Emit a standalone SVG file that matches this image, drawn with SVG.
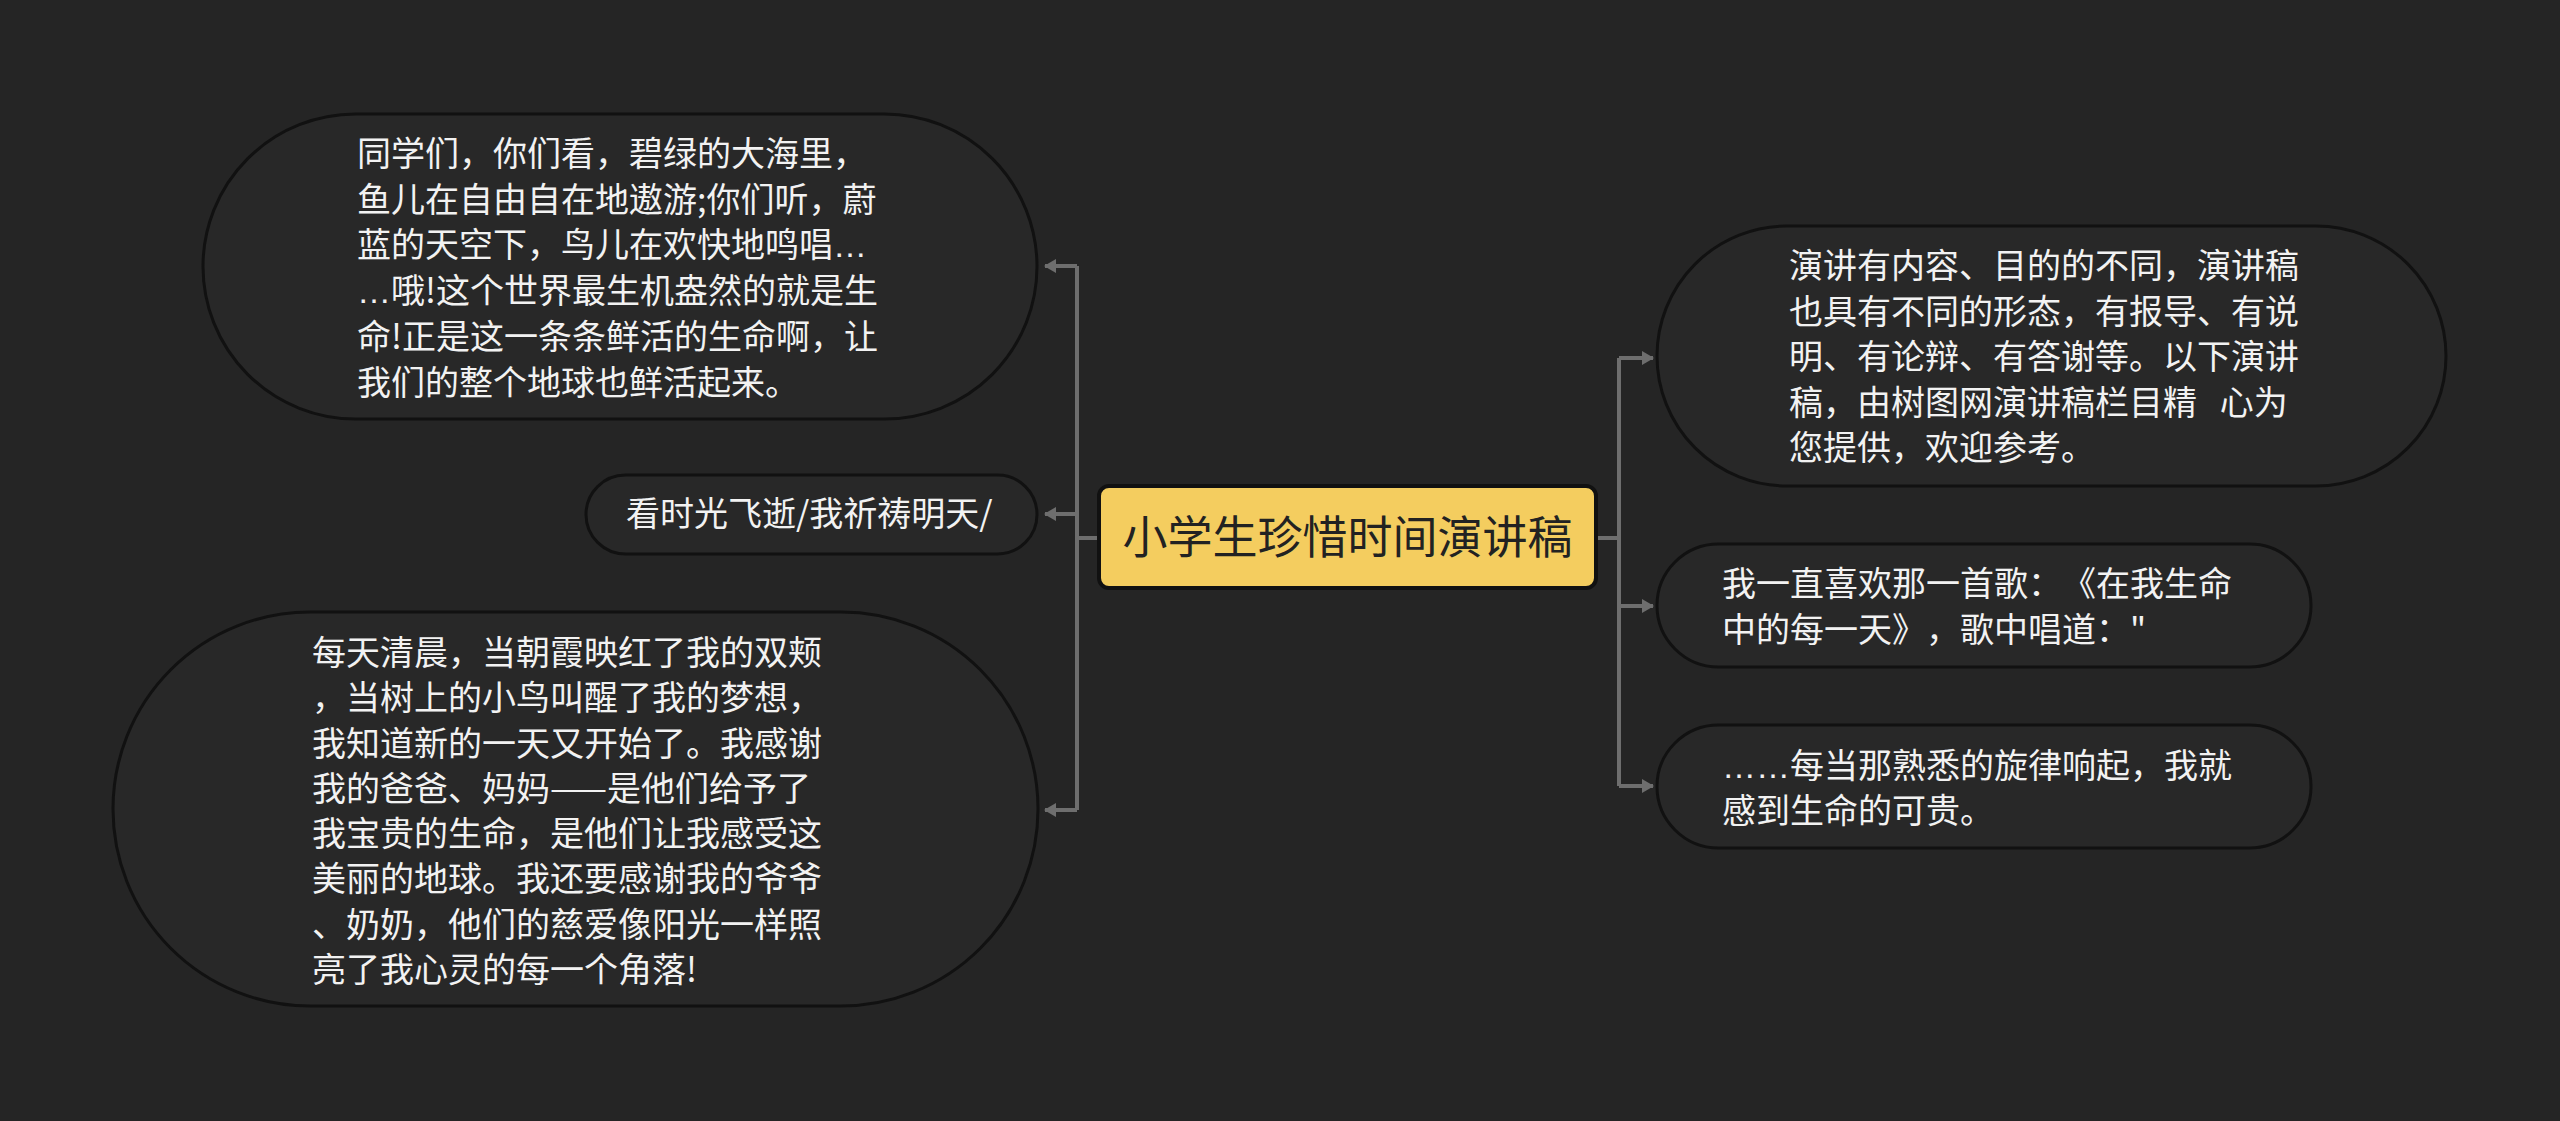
<svg xmlns="http://www.w3.org/2000/svg" width="2560" height="1121" viewBox="0 0 2560 1121">
<defs>
<style>
.bg{fill:#252525}
.node{fill:#282828;stroke:#111111;stroke-width:3}
.root{fill:#f4cd5f;stroke:#111111;stroke-width:4}
.t{font-family:"Noto Sans CJK SC","Noto Sans",sans-serif;font-size:34px;fill:#f2f2f2;text-spacing-trim:space-all}
.rt{font-family:"Noto Sans CJK SC","Noto Sans",sans-serif;font-size:45px;fill:#222222}
.el{font-family:"Liberation Sans",sans-serif}
.ln{fill:none;stroke:#6e6e6e;stroke-width:4}
</style>
<marker id="arr" viewBox="0 0 12 14" refX="11" refY="7" markerWidth="12" markerHeight="14" markerUnits="userSpaceOnUse" orient="auto">
<path d="M0,0 L12,7 L0,14 Z" fill="#6e6e6e"/>
</marker>
</defs>
<rect class="bg" x="0" y="0" width="2560" height="1121"/>

<g id="connectors">
<path class="ln" d="M1099,538 H1077"/>
<path class="ln" d="M1077,266 V810"/>
<path class="ln" d="M1077,266 H1045" marker-end="url(#arr)"/>
<path class="ln" d="M1077,514 H1045" marker-end="url(#arr)"/>
<path class="ln" d="M1077,810 H1045" marker-end="url(#arr)"/>
<path class="ln" d="M1597,538 H1619"/>
<path class="ln" d="M1619,358 V786"/>
<path class="ln" d="M1619,358 H1653" marker-end="url(#arr)"/>
<path class="ln" d="M1619,606 H1653" marker-end="url(#arr)"/>
<path class="ln" d="M1619,786 H1653" marker-end="url(#arr)"/>
</g>

<g id="root">
<rect class="root" x="1099" y="486" width="497" height="102" rx="10"/>
<text class="rt" x="1347.5" y="554" text-anchor="middle">小学生珍惜时间演讲稿</text>
</g>

<g id="left1">
<rect class="node" x="203" y="114" width="834" height="305" rx="152.5"/>
<text class="t" x="357" y="166">同学们，你们看，碧绿的大海里，</text>
<text class="t" x="357" y="211.7">鱼儿在自由自在地遨游;你们听，蔚</text>
<text class="t" x="357" y="257.4">蓝的天空下，鸟儿在欢快地鸣唱<tspan class="el">…</tspan></text>
<text class="t" x="357" y="303.1"><tspan class="el">…</tspan>哦!这个世界最生机盎然的就是生</text>
<text class="t" x="357" y="348.8">命!正是这一条条鲜活的生命啊，让</text>
<text class="t" x="357" y="394.5">我们的整个地球也鲜活起来。</text>
</g>

<g id="left2">
<rect class="node" x="586" y="475" width="451" height="79" rx="39.5"/>
<text class="t" x="626" y="526">看时光飞逝/我祈祷明天/</text>
</g>

<g id="left3">
<rect class="node" x="113" y="612" width="925" height="394" rx="197"/>
<text class="t" x="312" y="665">每天清晨，当朝霞映红了我的双颊</text>
<text class="t" x="312" y="710.3">，当树上的小鸟叫醒了我的梦想，</text>
<text class="t" x="312" y="755.5">我知道新的一天又开始了。我感谢</text>
<text class="t" x="312" y="800.8">我的爸爸、妈妈——是他们给予了</text>
<text class="t" x="312" y="846">我宝贵的生命，是他们让我感受这</text>
<text class="t" x="312" y="891.3">美丽的地球。我还要感谢我的爷爷</text>
<text class="t" x="312" y="936.5">、奶奶，他们的慈爱像阳光一样照</text>
<text class="t" x="312" y="981.8">亮了我心灵的每一个角落!</text>
</g>

<g id="right1">
<rect class="node" x="1657" y="226" width="789" height="260" rx="130"/>
<text class="t" x="1789" y="278">演讲有内容、目的的不同，演讲稿</text>
<text class="t" x="1789" y="323.5">也具有不同的形态，有报导、有说</text>
<text class="t" x="1789" y="369">明、有论辩、有答谢等。以下演讲</text>
<text class="t" x="1789" y="414.5" xml:space="preserve">稿，由树图网演讲稿栏目精   心为</text>
<text class="t" x="1789" y="460">您提供，欢迎参考。</text>
</g>

<g id="right2">
<rect class="node" x="1657" y="544" width="654" height="123" rx="61.5"/>
<text class="t" x="1722" y="596">我一直喜欢那一首歌：《在我生命</text>
<text class="t" x="1722" y="642">中的每一天》，歌中唱道："</text>
</g>

<g id="right3">
<rect class="node" x="1657" y="725" width="654" height="123" rx="61.5"/>
<text class="t" x="1722" y="778"><tspan class="el">……</tspan>每当那熟悉的旋律响起，我就</text>
<text class="t" x="1722" y="823">感到生命的可贵。</text>
</g>
</svg>
